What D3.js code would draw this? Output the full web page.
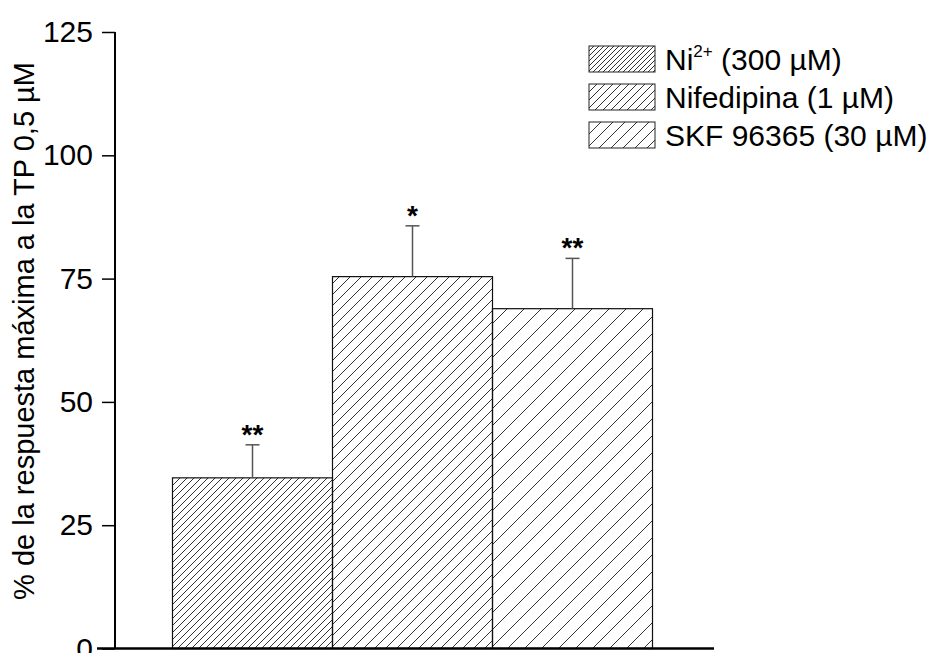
<!DOCTYPE html>
<html>
<head>
<meta charset="utf-8">
<script src="https://cdn.jsdelivr.net/npm/d3@7"></script>
<style>
  body { margin: 0; background: #fff; }
  text { font-family: "Liberation Sans", Arial, sans-serif; }
</style>
</head>
<body>
<div id="chart-container"></div>
<script>
const categories = ["Ni2+ (300 µM)", "Nifedipina (1 µM)", "SKF 96365 (30 µM)"];
const values = [34.6, 75.4, 68.9];
const errors = [6.7, 10.3, 10.2];
const stars = ["**", "*", "**"];
const yTicks = [0, 25, 50, 75, 100, 125];
const hatchGaps = [7, 11, 17];
const legendGaps = [5, 8, 12];

const W = 933, H = 653;
const x0 = 115, yBase = 648.5, yTop = 32;

const svg = d3.select("#chart-container")
    .append("svg")
    .attr("width", W)
    .attr("height", H);

const defs = svg.append("defs");

function addHatch(id, gap) {
    const p = defs.append("pattern")
        .attr("id", id)
        .attr("patternUnits", "userSpaceOnUse")
        .attr("width", gap)
        .attr("height", gap);
    p.append("path")
        .attr("d", `M0,${gap} L${gap},0 M${-gap / 2},${gap / 2} L${gap / 2},${-gap / 2} M${gap / 2},${gap * 1.5} L${gap * 1.5},${gap / 2}`)
        .attr("stroke", "#333")
        .attr("stroke-width", 1);
}
hatchGaps.forEach((g, i) => addHatch("h" + i, g));
legendGaps.forEach((g, i) => addHatch("l" + i, g));

const x = d3.scaleBand()
    .domain(categories)
    .range([172.5, 652.5])
    .padding(0);

const y = d3.scaleLinear()
    .domain([0, 125])
    .range([yBase, yTop]);

// bars
svg.selectAll(".bar")
    .data(categories)
    .enter().append("rect")
    .attr("class", "bar")
    .attr("x", d => x(d))
    .attr("y", (d, i) => y(values[i]))
    .attr("width", x.bandwidth())
    .attr("height", (d, i) => yBase - y(values[i]))
    .attr("fill", (d, i) => `url(#h${i})`)
    .attr("stroke", "#111")
    .attr("stroke-width", 1.2);

// error bars
categories.forEach((c, i) => {
    const cx = x(c) + x.bandwidth() / 2;
    const top = y(values[i] + errors[i]);
    svg.append("line")
        .attr("x1", cx).attr("x2", cx)
        .attr("y1", y(values[i])).attr("y2", top)
        .attr("stroke", "#555").attr("stroke-width", 1.5);
    svg.append("line")
        .attr("x1", cx - 7).attr("x2", cx + 7)
        .attr("y1", top).attr("y2", top)
        .attr("stroke", "#555").attr("stroke-width", 1.5);
    svg.append("text")
        .attr("x", cx)
        .attr("y", top - 1)
        .attr("text-anchor", "middle")
        .attr("font-size", 28)
        .attr("font-weight", "bold")
        .text(stars[i]);
});

// y axis
const yAxis = svg.append("g")
    .attr("transform", `translate(${x0},0)`)
    .call(d3.axisLeft(y).tickValues(yTicks).tickSize(13).tickPadding(9));
yAxis.select(".domain").attr("stroke", "#000").attr("stroke-width", 2)
    .attr("d", `M0,${yTop}V${yBase}`);
yAxis.selectAll(".tick line").attr("stroke", "#000").attr("stroke-width", 1.5);
yAxis.selectAll(".tick text")
    .attr("font-size", 30)
    .attr("fill", "#000")
    .attr("font-family", "Liberation Sans, Arial, sans-serif");

// x axis line
svg.append("line")
    .attr("x1", 97).attr("x2", 714)
    .attr("y1", yBase).attr("y2", yBase)
    .attr("stroke", "#000").attr("stroke-width", 2.5);

// y label
svg.append("text")
    .attr("transform", `translate(34,331) rotate(-90)`)
    .attr("text-anchor", "middle")
    .attr("font-size", 29)
    .text("% de la respuesta máxima a la TP 0,5 µM");

// legend
const leg = svg.append("g").attr("transform", "translate(589,46)");
categories.forEach((c, i) => {
    const g = leg.append("g").attr("transform", `translate(0,${i * 38})`);
    g.append("rect")
        .attr("width", 66).attr("height", 26)
        .attr("fill", `url(#l${i})`)
        .attr("stroke", "#222").attr("stroke-width", 1);
    const t = g.append("text")
        .attr("x", 76).attr("y", 24)
        .attr("font-size", 30);
    if (i === 0) {
        t.append("tspan").text("Ni");
        t.append("tspan").attr("dy", -13).attr("font-size", 17).text("2+");
        t.append("tspan").attr("dy", 13).text(" (300 µM)");
    } else {
        t.text(c);
    }
});
</script>
</body>
</html>
